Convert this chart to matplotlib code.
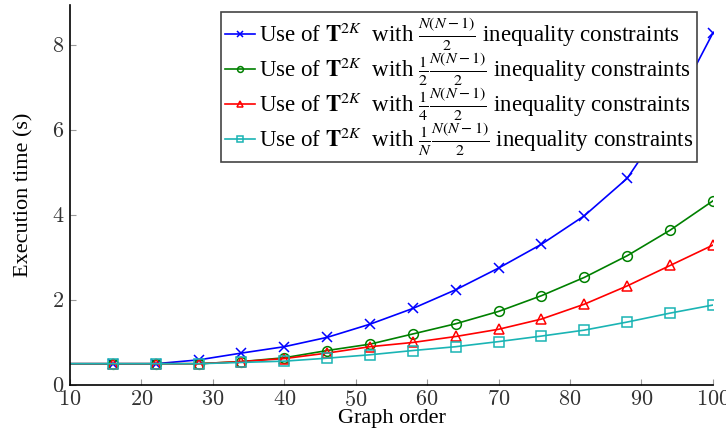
import matplotlib
matplotlib.use('Agg')
from matplotlib import pyplot as plt

plt.rcParams['font.family'] = ['Liberation Serif', 'DejaVu Serif']
plt.rcParams['mathtext.fontset'] = 'stix'

order = [10, 16, 22, 28, 34, 40, 46, 52, 58, 64, 70, 76, 82, 88, 94, 100]
t_full = [0.5, 0.5, 0.5, 0.59, 0.75, 0.9, 1.12, 1.43, 1.80, 2.24, 2.75, 3.31, 3.98, 4.86, 6.35, 8.28]
t_half = [0.5, 0.5, 0.5, 0.5, 0.55, 0.64, 0.81, 0.96, 1.2, 1.44, 1.73, 2.10, 2.53, 3.04, 3.64, 4.33]
t_quarter = [0.5, 0.5, 0.5, 0.5, 0.55, 0.62, 0.75, 0.9, 1.0, 1.14, 1.31, 1.55, 1.9, 2.33, 2.81, 3.29]
t_inv_n = [0.5, 0.5, 0.5, 0.5, 0.53, 0.56, 0.63, 0.71, 0.81, 0.90, 1.02, 1.15, 1.29, 1.48, 1.69, 1.88]

labels = [
    r'Use of $\mathbf{T}^{2K}$  with $\frac{N(N-1)}{2}$ inequality constraints',
    r'Use of $\mathbf{T}^{2K}$  with $\frac{1}{2}\frac{N(N-1)}{2}$ inequality constraints',
    r'Use of $\mathbf{T}^{2K}$  with $\frac{1}{4}\frac{N(N-1)}{2}$ inequality constraints',
    r'Use of $\mathbf{T}^{2K}$  with $\frac{1}{N}\frac{N(N-1)}{2}$ inequality constraints',
]
series = [t_full, t_half, t_quarter, t_inv_n]
colors = ['#0000ff', '#008000', '#ff0000', '#1ab4b4']
markers = ['x', 'o', '^', 's']

fig = plt.figure(figsize=(7.26, 4.43), dpi=100)
ax = fig.add_axes([0.0964, 0.131, 0.8856, 0.858])

for ys, c, m, lab in zip(series, colors, markers, labels):
    ax.plot(order, ys, color=c, marker=m, markersize=7, markevery=slice(1, None),
            markerfacecolor='none', markeredgecolor=c, markeredgewidth=1.1,
            linewidth=1.2, label=lab)

ax.set_xlim(10, 100)
ax.set_ylim(0, 8.94)
ax.set_xticks(range(10, 101, 10))
ax.set_yticks([0, 2, 4, 6, 8])
ax.spines['top'].set_visible(False)
ax.spines['right'].set_visible(False)
ax.spines['left'].set_linewidth(1.2)
ax.spines['bottom'].set_linewidth(1.2)
ax.tick_params(direction='in', length=4, color='#999999', labelsize=16, pad=4)
ax.set_xticklabels([r'$%d$' % v for v in range(10, 101, 10)])
ax.set_yticklabels([r'$%d$' % v for v in [0, 2, 4, 6, 8]])
for t in ax.get_xticklabels() + ax.get_yticklabels():
    t.set_math_fontfamily('cm')
    t.set_color('#333333')

ax.set_xlabel('Graph order', fontsize=16, labelpad=-1)
ax.set_ylabel('Execution time (s)', fontsize=16, labelpad=13)

leg = ax.legend(loc='upper right', bbox_to_anchor=(697 / 726, 1 - 12 / 443),
                bbox_transform=fig.transFigure, fontsize=16.5, frameon=True,
                fancybox=False, edgecolor='#444444', framealpha=1,
                handlelength=1.3, handletextpad=0.2, borderpad=0.15,
                labelspacing=-0.12, borderaxespad=0, markerscale=0.6)
leg.get_frame().set_linewidth(1.2)

fig.savefig('out.png', dpi=100)
